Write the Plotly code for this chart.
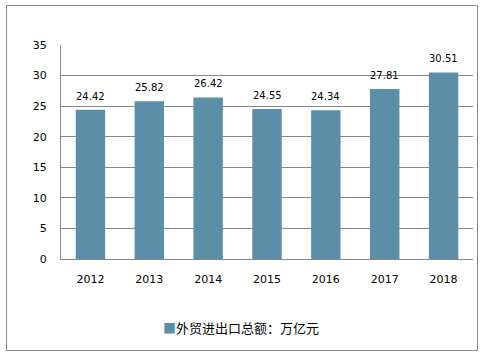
import plotly.graph_objects as go

years = ["2012", "2013", "2014", "2015", "2016", "2017", "2018"]
values = [24.42, 25.82, 26.42, 24.55, 24.34, 27.81, 30.51]
series_name = "外贸进出口总额：万亿元"
y_ticks = [0, 5, 10, 15, 20, 25, 30, 35]
bar_color = "#5b8fa8"

L, R, T, B = 61, 11, 45, 95
W, H = 484, 354
pw, ph = W - L - R, H - T - B

def px_x(p):
    return (p - L) / pw

def px_y(p):
    return (H - B - p) / ph

fig = go.Figure()
fig.add_trace(go.Bar(
    x=years, y=values, name=series_name,
    marker=dict(color=bar_color, line=dict(width=0)),
    showlegend=False,
))

annotations = [dict(x=i, y=v, xref="x", yref="y", text=f"{v:.2f}",
                    showarrow=False, yanchor="bottom", yshift=6,
                    font=dict(family="DejaVu Sans", size=10, color="#000000"))
               for i, v in enumerate(values)]
annotations.append(dict(
    x=px_x(241), y=px_y(327), xref="paper", yref="paper",
    xanchor="center", yanchor="middle", showarrow=False,
    text=f"<span style='color:{bar_color}'>■</span>{series_name}",
    font=dict(family="Noto Sans CJK SC", size=13, color="#000000")))

fig.update_layout(
    width=W, height=H,
    margin=dict(l=L, r=R, t=T, b=B),
    paper_bgcolor="white", plot_bgcolor="white",
    bargap=0.5,
    font=dict(family="DejaVu Sans, Noto Sans CJK SC", size=11, color="#000000"),
    xaxis=dict(type="category", range=[-0.5, len(years) - 0.5], showgrid=False,
               showline=True, linecolor="#878787", linewidth=1, ticks="",
               tickfont=dict(size=11), ticklabelstandoff=10, fixedrange=True),
    yaxis=dict(range=[0, 35], tickvals=y_ticks, showgrid=True, gridcolor="#878787",
               gridwidth=1, showline=True, linecolor="#878787", linewidth=1,
               zeroline=False, ticks="", tickfont=dict(size=11), ticklabelstandoff=11,
               fixedrange=True),
    annotations=annotations,
    shapes=[dict(type="rect", xref="paper", yref="paper",
                 x0=px_x(6.5), x1=px_x(477.5), y0=px_y(350.5), y1=px_y(5.5),
                 line=dict(color="#8c8c8c", width=1), fillcolor="rgba(0,0,0,0)",
                 layer="below")],
)

fig.write_html("out.html")
